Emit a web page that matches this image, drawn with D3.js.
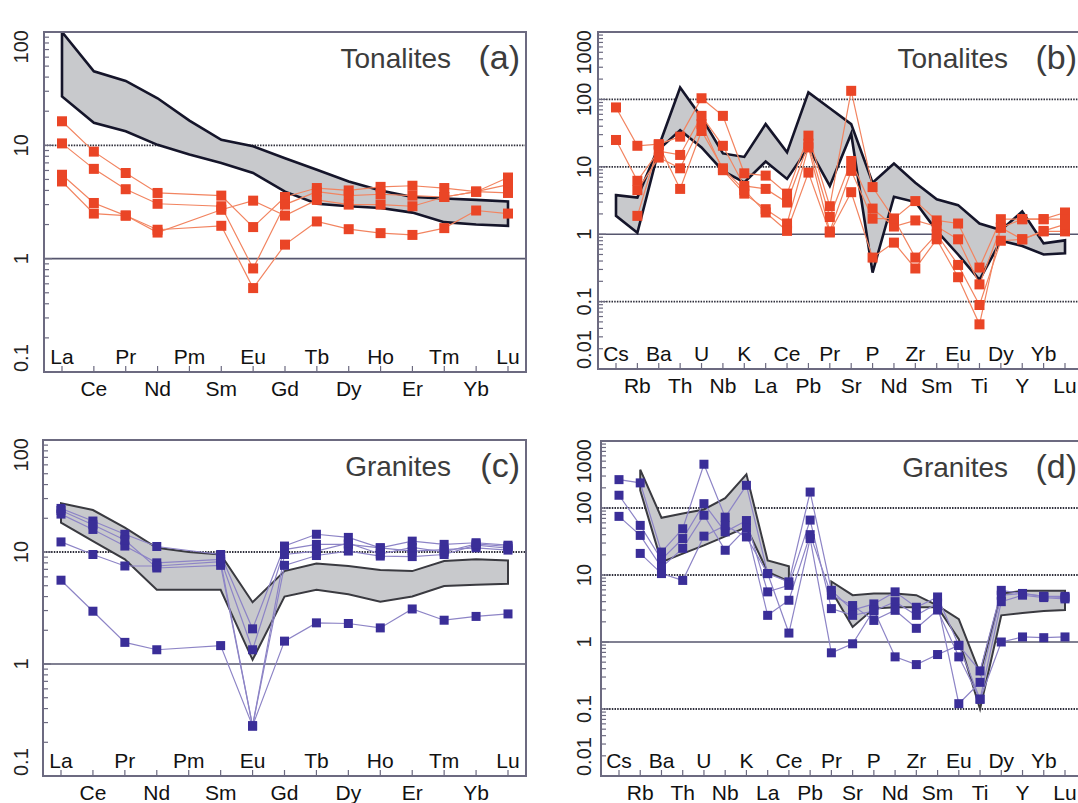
<!DOCTYPE html>
<meta charset="utf-8">
<title>Spider diagrams</title>
<style>
body { margin: 0; background: #fff; }
text { font-family: "Liberation Sans", Arial, sans-serif; }
</style>
<body>
<script src="https://cdn.jsdelivr.net/npm/d3@7/dist/d3.min.js"></script>
<script>
var w = 1078, h = 803;

// element orders
var ree = ["La","Ce","Pr","Nd","Pm","Sm","Eu","Gd","Tb","Dy","Ho","Er","Tm","Yb","Lu"];
var spider = ["Cs","Rb","Ba","Th","U","Nb","K","La","Ce","Pb","Pr","Sr","P","Nd","Zr","Sm","Eu","Ti","Dy","Y","Yb","Lu"];

// (a) tonalites, REE
var bandUpperA = [100,45,37,26,16.5,11.2,9.8,7.7,6.1,4.8,4.0,3.5,3.4,3.3,3.2];
var bandLowerA = [27,15.8,13.3,10.1,8.3,7.0,5.7,3.9,3.05,2.9,2.8,2.55,2.1,2.0,1.95];
var tonaliteRee = [
  [16.3,8.8,5.7,3.8,null,3.6,1.9,3.5,4.2,4.0,4.3,4.4,4.2,3.9,5.2],
  [10.4,6.2,4.1,3.05,null,2.9,0.82,3.0,3.9,3.6,3.7,3.6,3.5,3.9,4.5],
  [5.5,3.1,2.4,1.7,null,2.7,3.25,2.4,3.3,3.0,3.0,2.9,3.5,3.9,3.8],
  [4.8,2.5,2.4,1.8,null,1.95,0.55,1.33,2.13,1.82,1.68,1.62,1.86,2.66,2.5]
];

// (b) tonalites, multi-element
var bandUpperB = [3.8,3.5,20,150,54,15.8,14,43,16.4,127,74,43,5.8,11.2,5.8,3.3,2.7,1.44,1.15,2.17,0.73,0.81];
var bandLowerB = [1.87,1.05,18,35,19.4,8.7,5.85,12,6.6,19.4,5.2,31,0.27,3.6,3.0,1.12,0.5,0.21,0.8,0.67,0.5,0.52];
var tonaliteSpider = [
  [76,20.5,21.7,28,104,57,8,7.4,4.0,29,2.6,134,5.0,1.7,3.1,1.6,1.44,0.32,1.67,1.67,1.67,2.1],
  [25,6.2,17,15,57,20.5,5.2,4.7,2.95,22,1.8,12.2,2.4,1.3,1.6,1.3,0.84,0.18,1.25,1.67,1.67,1.67],
  [null,4.5,13.7,9.5,43,8.9,4.0,2.35,1.44,19.4,1.1,8.7,1.7,1.7,0.45,1.0,0.35,0.089,0.8,0.84,1.1,1.1],
  [null,1.87,21,4.7,34,9.5,4.5,2.1,1.12,8.2,1.06,4.2,0.45,0.75,0.31,0.84,0.23,0.046,1.25,0.84,1.12,1.4]
];

// (c) granites, REE
var bandUpperC = [27.3,23.7,16.5,10.9,10,9.5,3.56,6.75,7.9,7.5,6.9,6.75,8.3,8.6,8.4];
var bandLowerC = [18.3,12.5,8.6,4.6,4.6,4.6,1.09,4.0,4.6,4.2,3.6,4.0,4.96,5.1,5.2];
var graniteRee = [
  [24.5,18.9,14.4,11.2,null,9.5,2.06,11.3,14.4,13.5,10.9,12.5,11.7,12.1,11.5],
  [21.8,15.9,11.3,8.0,null,8.6,1.34,10.5,11.7,11.7,10.9,10.2,10.5,10.9,10.4],
  [23.5,17.5,12.8,7.2,null,7.6,0.28,7.6,9.3,10.2,9.2,9.1,9.5,11.5,10.8],
  [12.3,9.5,7.5,7.5,null,8.2,0.28,9.5,10.2,12.0,9.6,11.0,10.0,11.8,11.2],
  [5.6,2.96,1.56,1.34,null,1.46,0.28,1.6,2.33,2.3,2.1,3.1,2.46,2.66,2.8]
];

// (d) granites, multi-element (band has a gap at Pb)
var bandUpperD = [null,373,71.5,83,95,140,318,16.5,13.5,null,8,5.0,5.3,5.3,5.0,3.5,2.2,0.34,5.3,5.8,5.8,5.8];
var bandLowerD = [null,183,15.6,20.8,27.7,37.7,52,11.1,8,null,5.8,1.67,3.15,3.3,3.3,3.3,1.1,0.1,2.5,2.7,2.9,3.0];
var graniteSpider = [
  [265,237,22,49,450,73,218,10.5,7.9,173,5.9,3.0,3.7,5.6,3.3,4.7,0.89,0.37,5.9,5.3,4.8,4.8],
  [155,55,17,35,116,44,65,5.6,7.0,66,3.15,2.5,2.9,4.0,2.5,3.8,0.12,0.25,5.0,5.3,4.8,4.6],
  [75,39,13,25,78,23.4,50,2.5,4.2,40,5.0,3.5,2.1,2.97,1.6,3.0,0.6,0.14,4.0,5.0,4.6,4.4],
  [null,21,10.5,8.3,38,55,37,10.5,1.36,35,0.69,0.94,3.0,0.6,0.46,0.65,0.89,0.14,1.0,1.19,1.16,1.19]
];

var dottedAC = [10], solidAC = [1];
var dottedBD = [100, 10, 0.1], solidBD = [1];

var panels = [
  {id:"a", els:ree, lo:0.1, hi:100, l:44, t:32, r:526, b:372, up:bandUpperA, dn:bandLowerA, samples:tonaliteRee,
   dotted:dottedAC, solid:solidAC, title:"Tonalites", tag:"(a)", mark:"#ea4526", line:"#f28460", edge:"#15152a", edgeW:2.6, ylab:28, ms:10},
  {id:"b", els:spider, lo:0.01, hi:1000, l:598, t:32, r:1083, b:369, up:bandUpperB, dn:bandLowerB, samples:tonaliteSpider,
   dotted:dottedBD, solid:solidBD, title:"Tonalites", tag:"(b)", mark:"#ea4526", line:"#f28460", edge:"#15152a", edgeW:2.6, ylab:591, ms:10},
  {id:"c", els:ree, lo:0.1, hi:100, l:43, t:440, r:526, b:776, up:bandUpperC, dn:bandLowerC, samples:graniteRee,
   dotted:dottedAC, solid:solidAC, title:"Granites", tag:"(c)", mark:"#3a2e98", line:"#8d84c6", edge:"#3a3a40", edgeW:2, ylab:28, ms:9},
  {id:"d", els:spider, lo:0.01, hi:1000, l:601, t:441, r:1083, b:776, up:bandUpperD, dn:bandLowerD, samples:graniteSpider,
   dotted:dottedBD, solid:solidBD, title:"Granites", tag:"(d)", mark:"#3a2e98", line:"#8d84c6", edge:"#3a3a40", edgeW:2, ylab:591, ms:9}
];

var svg = d3.select("body").append("svg")
    .attr("width", w)
    .attr("height", h);

svg.append("rect").attr("width", w).attr("height", h).attr("fill", "#fff");

var frameCol = "#6c6a80";

panels.forEach(function(p) {
  var g = svg.append("g");
  var x = d3.scalePoint().domain(p.els).range([p.l + 18, p.r - 18]);
  var y = d3.scaleLog().domain([p.lo, p.hi]).range([p.b, p.t]);

  g.append("clipPath").attr("id", "clip-" + p.id)
    .append("rect").attr("x", p.l).attr("y", p.t).attr("width", p.r - p.l).attr("height", p.b - p.t);

  var plot = g.append("g").attr("clip-path", "url(#clip-" + p.id + ")");

  // grid lines
  p.dotted.forEach(function(v) {
    plot.append("line").attr("x1", p.l).attr("x2", p.r).attr("y1", y(v)).attr("y2", y(v))
      .attr("stroke", "#2e2e3a").attr("stroke-width", 1.8).attr("stroke-dasharray", "1.5,1.2");
  });
  p.solid.forEach(function(v) {
    plot.append("line").attr("x1", p.l).attr("x2", p.r).attr("y1", y(v)).attr("y2", y(v))
      .attr("stroke", "#56566e").attr("stroke-width", 1.6);
  });

  // band, split where values are missing
  var segs = [], cur = [];
  p.els.forEach(function(e, i) {
    if (p.up[i] == null) { if (cur.length) segs.push(cur); cur = []; }
    else cur.push(i);
  });
  if (cur.length) segs.push(cur);
  segs.forEach(function(s) {
    var pts = s.map(function(i) { return [x(p.els[i]), y(p.up[i])]; })
      .concat(s.slice().reverse().map(function(i) { return [x(p.els[i]), y(p.dn[i])]; }));
    plot.append("path").attr("d", d3.line()(pts) + "Z")
      .attr("fill", "#c8c9cc").attr("stroke", p.edge).attr("stroke-width", p.edgeW)
      .attr("stroke-linejoin", "miter");
  });

  // samples
  var line = d3.line().x(function(d) { return x(d.el); }).y(function(d) { return y(d.v); });
  var pts = p.samples.map(function(s) {
    return s.map(function(v, i) { return {el: p.els[i], v: v}; }).filter(function(d) { return d.v != null; });
  });
  plot.selectAll("path.sample").data(pts).enter().append("path")
    .attr("class", "sample")
    .attr("d", line)
    .attr("fill", "none").attr("stroke", p.line).attr("stroke-width", 1.2);
  pts.forEach(function(s) {
    plot.selectAll(null).data(s).enter().append("rect")
      .attr("x", function(d) { return x(d.el) - p.ms / 2; })
      .attr("y", function(d) { return y(d.v) - p.ms / 2; })
      .attr("width", p.ms).attr("height", p.ms)
      .attr("fill", p.mark);
  });

  // frame
  g.append("rect").attr("x", p.l).attr("y", p.t).attr("width", p.r - p.l).attr("height", p.b - p.t)
    .attr("fill", "none").attr("stroke", frameCol).attr("stroke-width", 2);

  // y ticks: majors and minors inside
  var e0 = Math.round(Math.log10(p.lo)), e1 = Math.round(Math.log10(p.hi));
  for (var e = e0; e < e1; e++) {
    for (var k = 1; k < 10; k++) {
      var v = k * Math.pow(10, e);
      g.append("line").attr("x1", p.l).attr("x2", p.l + (k == 1 ? 8 : 5))
        .attr("y1", y(v)).attr("y2", y(v)).attr("stroke", frameCol).attr("stroke-width", 1.2);
    }
  }

  // y labels, rotated and kept inside the axis span
  for (var e = e0; e <= e1; e++) {
    var v = Math.pow(10, e);
    var lab = e < 0 ? v.toFixed(-e) : String(v);
    var t = g.append("text").attr("font-size", 20).attr("fill", "#222").text(lab);
    var len = t.node().getComputedTextLength();
    var cy = Math.max(p.t + len / 2 - 2, Math.min(p.b - len / 2, y(v)));
    t.attr("text-anchor", "middle")
      .attr("transform", "translate(" + p.ylab + "," + cy + ")rotate(-90)");
  }

  // x ticks and labels
  p.els.forEach(function(el, i) {
    g.append("line").attr("x1", x(el)).attr("x2", x(el)).attr("y1", p.b).attr("y2", p.b - 6)
      .attr("stroke", frameCol).attr("stroke-width", 1.2);
    g.append("text").attr("x", x(el)).attr("y", i % 2 == 0 ? p.b - 8 : p.b + 24)
      .attr("text-anchor", "middle").attr("font-size", 21).attr("fill", "#111").text(el);
  });

  // titles
  g.append("text").attr("x", p.r - 75).attr("y", p.t + 36).attr("text-anchor", "end")
    .attr("font-size", 28).attr("fill", "#3c3c3c").text(p.title);
  g.append("text").attr("x", p.r - 6).attr("y", p.t + 37).attr("text-anchor", "end")
    .attr("font-size", 34).attr("fill", "#3c3c3c").text(p.tag);
});
</script>
